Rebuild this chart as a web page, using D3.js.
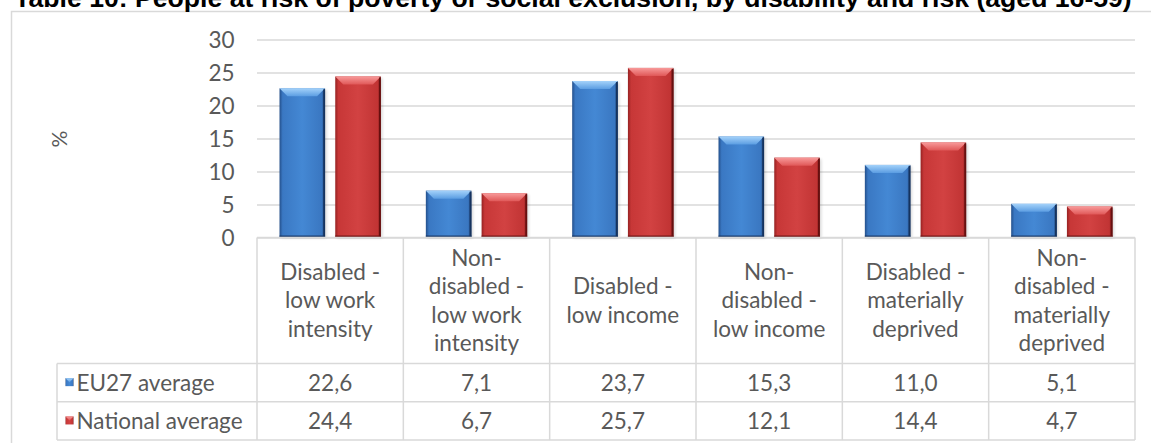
<!DOCTYPE html>
<html>
<head>
<meta charset="utf-8">
<script src="https://cdn.jsdelivr.net/npm/d3@7"></script>
<style>
  html, body { margin: 0; padding: 0; background: #ffffff; }
  svg { display: block; }
  .lbl { font-family: Lato, "Open Sans", sans-serif; fill: #595959; }
</style>
</head>
<body>
<svg id="chart" width="1151" height="443"></svg>
<script>
// Chart data
const titleText = "Table 10: People at risk of poverty or social exclusion, by disability and risk (aged 16-59)";
const categories = [
  "Disabled -\nlow work\nintensity",
  "Non-\ndisabled -\nlow work\nintensity",
  "Disabled -\nlow income",
  "Non-\ndisabled -\nlow income",
  "Disabled -\nmaterially\ndeprived",
  "Non-\ndisabled -\nmaterially\ndeprived"
];
const seriesNames = ["EU27 average", "National average"];
const eu27Values = [22.6, 7.1, 23.7, 15.3, 11.0, 5.1];
const nationalValues = [24.4, 6.7, 25.7, 12.1, 14.4, 4.7];
const yTicks = [0, 5, 10, 15, 20, 25, 30];
const yAxisLabel = "%";

const seriesValues = [eu27Values, nationalValues];
const seriesKeys = ["blue", "red"];

const svg = d3.select("#chart");

// Layout
const plotLeft = 257, plotRight = 1135, plotTop = 39.5, plotBottom = 237.5;
const tableLeft = 57, headerBottom = 363.5, rowH = 38.3;
const fontSize = 22.5;
const lineGap = 28.3;

const x = d3.scaleBand().domain(d3.range(categories.length)).range([plotLeft, plotRight]).paddingInner(0).paddingOuter(0);
const xs = d3.scaleBand().domain(d3.range(seriesNames.length)).range([0, x.bandwidth()]).paddingInner(0.183).paddingOuter(0.404);
const y = d3.scaleLinear().domain([0, 30]).range([plotBottom, plotTop]);

// Gradients for the bevelled bars
const defs = svg.append("defs");
const palettes = {
  blue: { body: ["#24508c", "#3a78c3", "#4488d4", "#3a77c1", "#1a3b6c"], top: ["#a4d2fa", "#5b9de2"], edge: "#16335e" },
  red:  { body: ["#962222", "#c73737", "#d24242", "#c13434", "#731313"], top: ["#f89a9a", "#e05858"], edge: "#661010" }
};
Object.entries(palettes).forEach(([k, p]) => {
  const g = defs.append("linearGradient").attr("id", k + "Body").attr("x1", 0).attr("x2", 1).attr("y1", 0).attr("y2", 0);
  [0, 0.07, 0.5, 0.93, 1].forEach((o, i) => g.append("stop").attr("offset", o).attr("stop-color", p.body[i]));
  const t = defs.append("linearGradient").attr("id", k + "Top").attr("x1", 0).attr("x2", 0).attr("y1", 0).attr("y2", 1);
  t.append("stop").attr("offset", 0).attr("stop-color", p.top[0]);
  t.append("stop").attr("offset", 1).attr("stop-color", p.top[1]);
});
const shadow = defs.append("filter").attr("id", "shadow").attr("x", "-20%").attr("y", "-20%").attr("width", "140%").attr("height", "140%");
shadow.append("feGaussianBlur").attr("stdDeviation", 1.5);

// Outer chart border
svg.append("rect").attr("x", 11.5).attr("y", 11.5).attr("width", 1160).attr("height", 460)
  .attr("fill", "#ffffff").attr("stroke", "#d9d9d9").attr("stroke-width", 1.5);

// Title
const title = svg.append("text").attr("x", 573).attr("y", 7).attr("text-anchor", "middle")
  .attr("font-family", "'Liberation Sans', Arial, sans-serif").attr("font-weight", "bold")
  .attr("font-size", 20).attr("fill", "#000").text(titleText);
const tw = title.node().getComputedTextLength();
title.attr("font-size", 20 * 1118 / tw);

// Y axis with gridlines
const yAxis = d3.axisLeft(y).tickValues(yTicks).tickSizeInner(-(plotRight - plotLeft)).tickSizeOuter(0).tickPadding(22.5);
const gy = svg.append("g").attr("transform", `translate(${plotLeft},0)`).call(yAxis);
gy.select(".domain").remove();
gy.selectAll(".tick line").attr("stroke", "#d9d9d9").attr("stroke-width", 1.6);
gy.selectAll(".tick text").attr("class", "lbl").attr("font-size", fontSize).attr("fill", "#595959")
  .attr("font-family", "Lato, sans-serif").attr("dy", "0.35em");

// Axis title
svg.append("text").attr("class", "lbl").attr("font-size", 21)
  .attr("transform", "translate(67,139) rotate(-90)").attr("text-anchor", "middle").text(yAxisLabel);

// Bars
const bars = svg.append("g");
seriesValues.forEach((vals, si) => {
  const key = seriesKeys[si];
  vals.forEach((v, ci) => {
    const bx = x(ci) + xs(si), bw = xs.bandwidth();
    const by = y(v), bh = y(0) - y(v);
    const b = Math.min(8, bh / 2);
    const g = bars.append("g");
    g.append("rect").attr("x", bx + 1.5).attr("y", by + 1.5).attr("width", bw).attr("height", bh - 1)
      .attr("fill", "#000").attr("opacity", 0.16).attr("filter", "url(#shadow)");
    g.append("rect").attr("x", bx).attr("y", by).attr("width", bw).attr("height", bh).attr("fill", `url(#${key}Body)`);
    g.append("rect").attr("x", bx).attr("y", by + bh - 2).attr("width", bw).attr("height", 2)
      .attr("fill", palettes[key].edge).attr("opacity", 0.85);
    g.append("polygon")
      .attr("points", [[bx, by], [bx + bw, by], [bx + bw - b, by + b], [bx + b, by + b]].map(p => p.join(",")).join(" "))
      .attr("fill", `url(#${key}Top)`);
    g.append("rect").attr("x", bx + bw - 1.8).attr("y", by + 1).attr("width", 1.8).attr("height", bh - 1)
      .attr("fill", palettes[key].edge);
  });
});

// Data table grid
const grid = svg.append("g").attr("stroke", "#d9d9d9").attr("stroke-width", 1.5).attr("fill", "none");
const rowTops = [headerBottom, headerBottom + rowH, headerBottom + 2 * rowH];
grid.append("line").attr("x1", plotLeft).attr("x2", plotRight).attr("y1", y(0)).attr("y2", y(0));
rowTops.forEach(ry => grid.append("line").attr("x1", tableLeft).attr("x2", plotRight).attr("y1", ry).attr("y2", ry));
grid.append("line").attr("x1", tableLeft).attr("x2", tableLeft).attr("y1", headerBottom).attr("y2", rowTops[2]);
d3.range(categories.length + 1).forEach(i => {
  const vx = i < categories.length ? x(i) : plotRight;
  grid.append("line").attr("x1", vx).attr("x2", vx).attr("y1", y(0)).attr("y2", rowTops[2]);
});

// Category labels
const headerMid = (y(0) + headerBottom) / 2;
categories.forEach((c, ci) => {
  const lines = c.split("\n");
  const t = svg.append("text").attr("class", "lbl").attr("font-size", fontSize).attr("text-anchor", "middle");
  lines.forEach((ln, li) => {
    t.append("tspan").attr("x", x(ci) + x.bandwidth() / 2)
      .attr("y", headerMid + (li - (lines.length - 1) / 2) * lineGap).attr("dy", "0.35em").text(ln);
  });
});

// Table rows: legend key and values
const fmt = v => d3.format(".1f")(v).replace(".", ",");
seriesNames.forEach((name, si) => {
  const key = seriesKeys[si];
  const cy = rowTops[si] + rowH / 2;
  svg.append("rect").attr("x", 65.5).attr("y", cy - 4.5).attr("width", 8).attr("height", 8).attr("fill", `url(#${key}Body)`);
  svg.append("polygon").attr("points", `${65.5},${cy - 4.5} ${73.5},${cy - 4.5} ${69.5},${cy - 0.5}`).attr("fill", `url(#${key}Top)`);
  svg.append("text").attr("class", "lbl").attr("font-size", fontSize).attr("x", 76.5).attr("y", cy).attr("dy", "0.35em").text(name);
  seriesValues[si].forEach((v, ci) => {
    svg.append("text").attr("class", "lbl").attr("font-size", fontSize).attr("text-anchor", "middle")
      .attr("x", x(ci) + x.bandwidth() / 2).attr("y", cy).attr("dy", "0.35em").text(fmt(v));
  });
});
</script>
</body>
</html>
